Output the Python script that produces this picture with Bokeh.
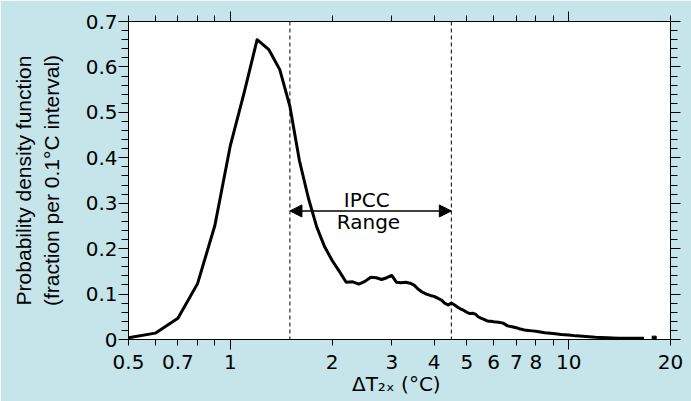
import math
from bokeh.plotting import figure
from bokeh.models import (FixedTicker, LogAxis, LinearAxis, Span, Arrow, NormalHead, Label, Range1d)
from bokeh.embed import file_html
from bokeh.resources import INLINE

# ---- data ----
sens_x = [0.5, 0.6, 0.7, 0.8, 0.9, 1.0, 1.1, 1.2, 1.3, 1.4, 1.5, 1.6, 1.7, 1.8, 1.9,
          2.0, 2.1, 2.2, 2.3, 2.4, 2.5, 2.6, 2.7, 2.8, 2.9, 3.0, 3.1, 3.2, 3.3, 3.4,
          3.5, 3.6, 3.7, 3.8, 3.9, 4.0, 4.1, 4.2, 4.3, 4.4, 4.5, 4.6, 4.7, 4.8, 4.9,
          5.0, 5.1, 5.2, 5.3, 5.4, 5.5, 5.6, 5.7, 5.8, 5.9, 6.0, 6.2, 6.4, 6.6, 6.8,
          7.0, 7.2, 7.4, 7.6, 7.8, 8.0, 8.5, 9.0, 9.5, 10.0, 10.5, 11.0, 12.0, 13.0,
          14.0, 15.0, 16.0, 16.7]
pdf_y = [0.004, 0.014, 0.047, 0.123, 0.251, 0.427, 0.545, 0.660, 0.638, 0.594, 0.513, 0.394, 0.312, 0.248, 0.204,
         0.174, 0.150, 0.126, 0.127, 0.122, 0.128, 0.137, 0.136, 0.132, 0.136, 0.141, 0.126, 0.125, 0.126, 0.124,
         0.119, 0.110, 0.104, 0.100, 0.097, 0.095, 0.091, 0.087, 0.080, 0.076, 0.080, 0.076, 0.071, 0.067, 0.064,
         0.060, 0.057, 0.058, 0.056, 0.050, 0.047, 0.045, 0.042, 0.040, 0.040, 0.039, 0.038, 0.036, 0.030, 0.028,
         0.026, 0.023, 0.021, 0.020, 0.019, 0.018, 0.015, 0.013, 0.011, 0.010, 0.008, 0.007, 0.005, 0.004,
         0.003, 0.003, 0.003, 0.003]
isolated_x = [17.9]
isolated_y = [0.003]

ipcc_low, ipcc_high = 1.5, 4.5
arrow_y = 0.283
ipcc_label_x, ipcc_label_y = 2.53, 0.307
range_label_x, range_label_y = 2.56, 0.259

x_ticks = [0.5, 0.6, 0.7, 0.8, 0.9, 1, 2, 3, 4, 5, 6, 7, 8, 9, 10, 20]
x_long_ticks = [1, 10]
x_tick_labels = ["0.5", "", "0.7", "", "", "1", "2", "3", "4", "5", "6", "7", "8", "", "10", "20"]
y_ticks = [0, 0.1, 0.2, 0.3, 0.4, 0.5, 0.6, 0.7]
y_tick_labels = ["0", "0.1", "0.2", "0.3", "0.4", "0.5", "0.6", "0.7"]
y_minor = [round(i * 0.02, 2) for i in range(36) if i % 5 != 0]

y_title = "Probability density function\n(fraction per 0.1°C interval)"
x_title = "ΔT\u2082\u2093  (°C)"

BG = "#c5e5ea"
TICK_FONT = "DejaVu Sans"

p = figure(width=691, height=401, x_axis_type="log", output_backend="svg",
           toolbar_location=None, x_range=Range1d(0.5, 20), y_range=Range1d(0, 0.7),
           min_border_left=128, min_border_right=21, min_border_top=21, min_border_bottom=62)
p.background_fill_color = "white"
p.border_fill_color = BG
p.outline_line_color = "black"
p.xgrid.visible = False
p.ygrid.visible = False

xt = FixedTicker(ticks=x_ticks, minor_ticks=x_long_ticks)
yt = FixedTicker(ticks=y_ticks, minor_ticks=y_minor)

def style_x(ax, labels=True):
    ax.ticker = xt
    ax.major_tick_in = 0
    ax.major_tick_out = 6
    ax.minor_tick_in = 0
    ax.minor_tick_out = 10
    ax.axis_line_color = "black"
    ax.major_tick_line_color = "black"
    ax.minor_tick_line_color = "black"
    if labels:
        ax.major_label_overrides = dict(zip(x_ticks, x_tick_labels))
        ax.major_label_text_font = TICK_FONT
        ax.major_label_text_font_size = "20px"
        ax.major_label_text_color = "black"
        ax.major_label_standoff = 5
    else:
        ax.major_label_overrides = {t: "" for t in x_ticks}
        ax.major_label_text_font_size = "1px"
        ax.major_label_standoff = 0

def style_y(ax, labels=True):
    ax.ticker = yt
    ax.major_tick_in = 0
    ax.major_tick_out = 10
    ax.minor_tick_in = 0
    ax.minor_tick_out = 7
    ax.axis_line_color = "black"
    ax.major_tick_line_color = "black"
    ax.minor_tick_line_color = "black"
    if labels:
        ax.major_label_overrides = dict(zip(y_ticks, y_tick_labels))
        ax.major_label_text_font = TICK_FONT
        ax.major_label_text_font_size = "20px"
        ax.major_label_text_color = "black"
        ax.major_label_standoff = 1
    else:
        ax.major_label_overrides = {t: "" for t in y_ticks}
        ax.major_label_text_font_size = "1px"
        ax.major_label_standoff = 0

style_x(p.xaxis[0])
p.xaxis[0].axis_label = x_title
p.xaxis[0].axis_label_text_font = TICK_FONT
p.xaxis[0].axis_label_text_font_size = "20px"
p.xaxis[0].axis_label_text_font_style = "normal"
p.xaxis[0].axis_label_text_color = "black"
p.xaxis[0].axis_label_standoff = 0

style_y(p.yaxis[0])
p.yaxis[0].axis_label = y_title
p.yaxis[0].axis_label_text_font = "Liberation Sans"
p.yaxis[0].axis_label_text_font_size = "21px"
p.yaxis[0].axis_label_text_font_style = "normal"
p.yaxis[0].axis_label_text_color = "black"
p.yaxis[0].axis_label_standoff = 20

top = LogAxis()
style_x(top, labels=False)
p.add_layout(top, "above")
right = LinearAxis()
style_y(right, labels=False)
p.add_layout(right, "right")

# IPCC range lines
for loc in (ipcc_low, ipcc_high):
    p.add_layout(Span(location=loc, dimension="height", line_color="black",
                      line_width=1, line_dash="4 3"))

p.add_layout(Arrow(start=NormalHead(size=12, fill_color="black", line_color="black"),
                   end=NormalHead(size=12, fill_color="black", line_color="black"),
                   x_start=ipcc_low, y_start=arrow_y, x_end=ipcc_high, y_end=arrow_y,
                   line_width=1.5, line_color="black"))

p.line(sens_x, pdf_y, line_width=3, line_color="black", line_join="round")
p.scatter(isolated_x, isolated_y, marker="square", size=4, color="black")

p.add_layout(Label(x=ipcc_label_x, y=ipcc_label_y, text="IPCC", text_align="center",
                   text_baseline="middle", text_font=TICK_FONT, text_font_size="20px",
                   text_color="black"))
p.add_layout(Label(x=range_label_x, y=range_label_y, text="Range", text_align="center",
                   text_baseline="middle", text_font=TICK_FONT, text_font_size="20px",
                   text_color="black"))

open("out.html", "w").write(file_html(p, INLINE))
